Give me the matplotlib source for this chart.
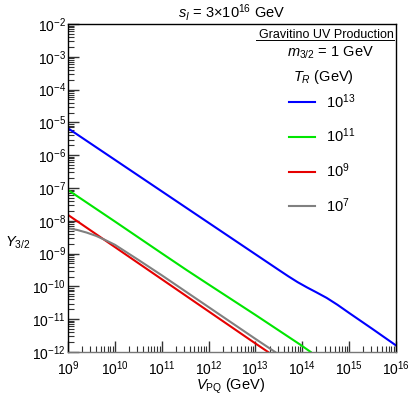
import numpy as np
import matplotlib
matplotlib.use("Agg")
import matplotlib.pyplot as plt
from matplotlib.ticker import LogLocator, NullFormatter

plt.rcParams['font.family'] = ['Liberation Sans', 'DejaVu Sans']
plt.rcParams['mathtext.fontset'] = 'custom'
plt.rcParams['mathtext.rm'] = 'Liberation Sans'
plt.rcParams['mathtext.it'] = 'Liberation Sans:italic'
plt.rcParams['mathtext.bf'] = 'Liberation Sans:bold'

# log10(V_PQ / GeV) and log10(Y_3/2)
blue_x = [9.0, 10.0, 11.0, 12.0, 13.0, 13.5, 13.7, 13.9, 14.1, 14.3, 14.52, 14.75, 15.0, 15.5, 16.0]
blue_y = [-5.18, -6.14, -7.10, -8.06, -9.02, -9.50, -9.69, -9.87, -10.03, -10.18, -10.35, -10.56, -10.81, -11.30, -11.80]
green_x = [9.0, 10.0, 11.0, 11.53, 12.0, 13.0, 13.95, 14.18]
green_y = [-7.06, -8.02, -8.99, -9.50, -9.94, -10.87, -11.77, -12.0]
red_x = [9.0, 10.0, 11.0, 12.0, 13.0, 13.27]
red_y = [-7.82, -8.80, -9.78, -10.76, -11.74, -12.0]
gray_x = [9.0, 9.2, 9.4, 9.6, 9.8, 10.0, 10.5, 11.0, 12.0, 13.0, 13.42]
gray_y = [-8.23, -8.28, -8.36, -8.46, -8.59, -8.73, -9.19, -9.66, -10.63, -11.60, -12.0]

labels = [r'$10^{13}$', r'$10^{11}$', r'$10^{9}$', r'$10^{7}$']
colors = ['#0000ff', '#00e600', '#e60000', '#808080']

fig = plt.figure(figsize=(4.11, 3.96), dpi=100)
ax = fig.add_axes([68/411, 1-352/396, 328/411, 328/396])

series = [(blue_x, blue_y), (green_x, green_y), (red_x, red_y), (gray_x, gray_y)]
for (xs, ys), c, lab in zip(series, colors, labels):
    ax.plot(10**np.array(xs), 10**np.array(ys), color=c, lw=1.5, label=lab)

ax.set_xscale('log')
ax.set_yscale('log')
ax.set_xlim(1e9, 1e16)
ax.set_ylim(1e-12, 1e-2)

ax.xaxis.set_major_locator(LogLocator(base=10, numticks=20))
ax.yaxis.set_major_locator(LogLocator(base=10, numticks=20))
ax.xaxis.set_minor_locator(LogLocator(base=10, subs=np.arange(2, 10), numticks=200))
ax.yaxis.set_minor_locator(LogLocator(base=10, subs=np.arange(2, 10), numticks=200))
ax.xaxis.set_minor_formatter(NullFormatter())
ax.yaxis.set_minor_formatter(NullFormatter())

ax.tick_params(which='major', direction='in', length=8, width=1, labelsize=10,
               top=False, right=False, color='#333333')
ax.tick_params(which='minor', direction='in', length=4, width=0.8,
               top=False, right=False, color='#333333')
ax.tick_params(axis='x', pad=5.5)
ax.tick_params(axis='y', pad=1.5)
for s in ['top', 'right', 'left']:
    ax.spines[s].set_color('black')
ax.spines['bottom'].set_color('#777777')
for s in ax.spines.values():
    s.set_linewidth(1.0)

ax.set_xlabel(r'$V_{\mathrm{PQ}}$ (GeV)', fontsize=10.5, va='center')
ax.xaxis.set_label_coords((231-68)/328, -(386-352)/328)
ax.text((18-68)/328, 1-(243-24)/328, r'$Y_{3/2}$', transform=ax.transAxes, fontsize=10.5,
        ha='center', va='center')
fig.text(232/411, 1-12/396, r'$s_I$ = 3$\times$10$^{16}$ GeV', ha='center', va='center', fontsize=10.5)

# legend header
ax.text(0.995, 1-(35-24)/328, 'Gravitino UV Production', transform=ax.transAxes,
        ha='right', va='center', fontsize=9)
ax.plot([(256-68)/328, 0.995], [1-(40-24)/328]*2, transform=ax.transAxes,
        color='black', lw=0.7, clip_on=False)
ax.text((330-68)/328, 1-(53-24)/328, r'$m_{3/2}$ = 1 GeV', transform=ax.transAxes,
        ha='center', va='center', fontsize=10.5)
ax.text((323-68)/328, 1-(77-24)/328, r'$T_R$ (GeV)', transform=ax.transAxes,
        ha='center', va='center', fontsize=10.5)

leg = ax.legend(loc='upper left', bbox_to_anchor=((289-68)/328, 1-(92-24)/328),
                frameon=False, fontsize=10.5, handlelength=1.8, handletextpad=0.75,
                labelspacing=1.1, borderpad=0, borderaxespad=0)

fig.savefig('out.png', dpi=100)
